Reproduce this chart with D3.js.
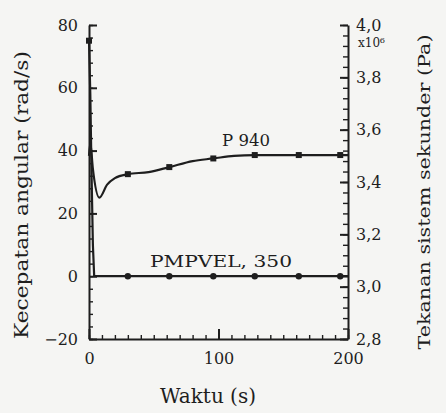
<!DOCTYPE html>
<html lang="id">
<head>
<meta charset="UTF-8">
<title>Kecepatan angular dan tekanan sistem sekunder</title>
<script src="https://d3js.org/d3.v7.min.js"></script>
<style>
  body { margin: 0; background: #f5f5f3; }
  svg { display: block; }
  text { font-family: "DejaVu Serif", "Liberation Serif", serif; fill: #1e1e1e; }
  .axis path, .axis line { stroke: #1e1e1e; stroke-width: 2; }
  .axis text { font-size: 16px; font-family: "DejaVu Serif", serif; }
  .minor line { stroke-width: 1.4; }
</style>
</head>
<body>
<svg></svg>
<script>
// time (s)
const p940Time = [0, 1, 3, 8, 14, 20, 30, 46, 62, 80, 96, 112, 128, 162, 194, 200];
// P 940 pressure (x10^6 Pa), right axis
const p940Val  = [3.50, 3.55, 3.45, 3.34, 3.39, 3.415, 3.43, 3.438, 3.457, 3.48, 3.49, 3.50, 3.503, 3.503, 3.503, 3.503];
// PMPVEL 350 angular speed (rad/s), left axis
const pmpTime = [0, 1, 2, 3, 4, 30, 62, 96, 128, 162, 194, 200];
const pmpVal  = [75, 58, 32, 10, 0, 0, 0, 0, 0, 0, 0, 0];
const markTime = [30, 62, 96, 128, 162, 194];

const xTicks = [0, 100, 200];
const leftTicks = [-20, 0, 20, 40, 60, 80];
const rightTicks = [2.8, 3.0, 3.2, 3.4, 3.6, 3.8, 4.0];

const W = 446, H = 413;
const svg = d3.select("svg").attr("width", W).attr("height", H);

const x = d3.scaleLinear().domain([0, 200]).range([89, 348]);
const yL = d3.scaleLinear().domain([-20, 80]).range([339, 25]);
const yR = d3.scaleLinear().domain([2.8, 4.0]).range([339, 25]);

const comma = d => d3.format(".1f")(d).replace(".", ",");

// minor ticks
svg.append("g").attr("class", "axis minor")
  .attr("transform", "translate(89,0)")
  .call(d3.axisLeft(yL).tickValues(d3.range(-20, 81, 4)).tickSize(-4).tickFormat(""))
  .call(g => g.select(".domain").remove());
svg.append("g").attr("class", "axis minor")
  .attr("transform", "translate(348,0)")
  .call(d3.axisRight(yR).tickValues(d3.range(2.8, 4.001, 0.04)).tickSize(-5).tickFormat(""))
  .call(g => g.select(".domain").remove());
svg.append("g").attr("class", "axis minor")
  .attr("transform", "translate(0,339)")
  .call(d3.axisBottom(x).tickValues(d3.range(0, 201, 10)).tickSize(-4).tickFormat(""))
  .call(g => g.select(".domain").remove());

// main axes
svg.append("g").attr("class", "axis")
  .attr("transform", "translate(89,0)")
  .call(d3.axisLeft(yL).tickValues(leftTicks).tickSizeInner(-8).tickSizeOuter(0).tickPadding(11));
svg.append("g").attr("class", "axis")
  .attr("transform", "translate(348,0)")
  .call(d3.axisRight(yR).tickValues(rightTicks).tickSizeInner(-8).tickSizeOuter(0).tickPadding(8).tickFormat(comma));
svg.append("g").attr("class", "axis")
  .attr("transform", "translate(0,339)")
  .call(d3.axisBottom(x).tickValues(xTicks).tickSizeInner(-10).tickSizeOuter(0).tickPadding(14));

svg.append("text")
  .attr("x", 358).attr("y", 47)
  .style("font-size", "12px")
  .text("x10⁶");

// series
const p940 = p940Time.map((t, i) => [t, p940Val[i]]);
const pmp = pmpTime.map((t, i) => [t, pmpVal[i]]);

svg.append("path")
  .datum(p940)
  .attr("fill", "none").attr("stroke", "#1e1e1e").attr("stroke-width", 2.2)
  .attr("d", d3.line().x(d => x(d[0])).y(d => yR(d[1])).curve(d3.curveMonotoneX));
svg.append("path")
  .datum(pmp)
  .attr("fill", "none").attr("stroke", "#1e1e1e").attr("stroke-width", 2.2)
  .attr("d", d3.line().x(d => x(d[0])).y(d => yL(d[1])));

const p940Interp = d3.scaleLinear().domain(p940Time).range(p940Val);
svg.selectAll(".mk940")
  .data(markTime)
  .join("rect")
  .attr("class", "mk940")
  .attr("x", d => x(d) - 3).attr("y", d => yR(p940Interp(d)) - 3)
  .attr("width", 6).attr("height", 6)
  .attr("fill", "#1e1e1e");
svg.selectAll(".mkpmp")
  .data(markTime)
  .join("circle")
  .attr("class", "mkpmp")
  .attr("cx", d => x(d)).attr("cy", yL(0))
  .attr("r", 3.2)
  .attr("fill", "#1e1e1e");
svg.append("rect")
  .attr("x", x(0) - 3).attr("y", yL(pmpVal[0]) - 3)
  .attr("width", 6).attr("height", 6)
  .attr("fill", "#1e1e1e");

// labels
svg.append("text")
  .attr("x", 222).attr("y", 146)
  .attr("textLength", 48).attr("lengthAdjust", "spacingAndGlyphs")
  .style("font-size", "17px")
  .text("P 940");
svg.append("text")
  .attr("x", 150).attr("y", 267)
  .attr("textLength", 142).attr("lengthAdjust", "spacingAndGlyphs")
  .style("font-size", "17px")
  .text("PMPVEL, 350");

svg.append("text")
  .attr("transform", "translate(28,195) rotate(-90)")
  .attr("text-anchor", "middle")
  .attr("textLength", 288).attr("lengthAdjust", "spacingAndGlyphs")
  .style("font-size", "18px")
  .text("Kecepatan angular (rad/s)");
svg.append("text")
  .attr("transform", "translate(430,192) rotate(-90)")
  .attr("text-anchor", "middle")
  .attr("textLength", 315).attr("lengthAdjust", "spacingAndGlyphs")
  .style("font-size", "17px")
  .text("Tekanan sistem sekunder (Pa)");
svg.append("text")
  .attr("x", 208).attr("y", 403)
  .attr("text-anchor", "middle")
  .style("font-size", "20px")
  .text("Waktu (s)");
</script>
</body>
</html>
